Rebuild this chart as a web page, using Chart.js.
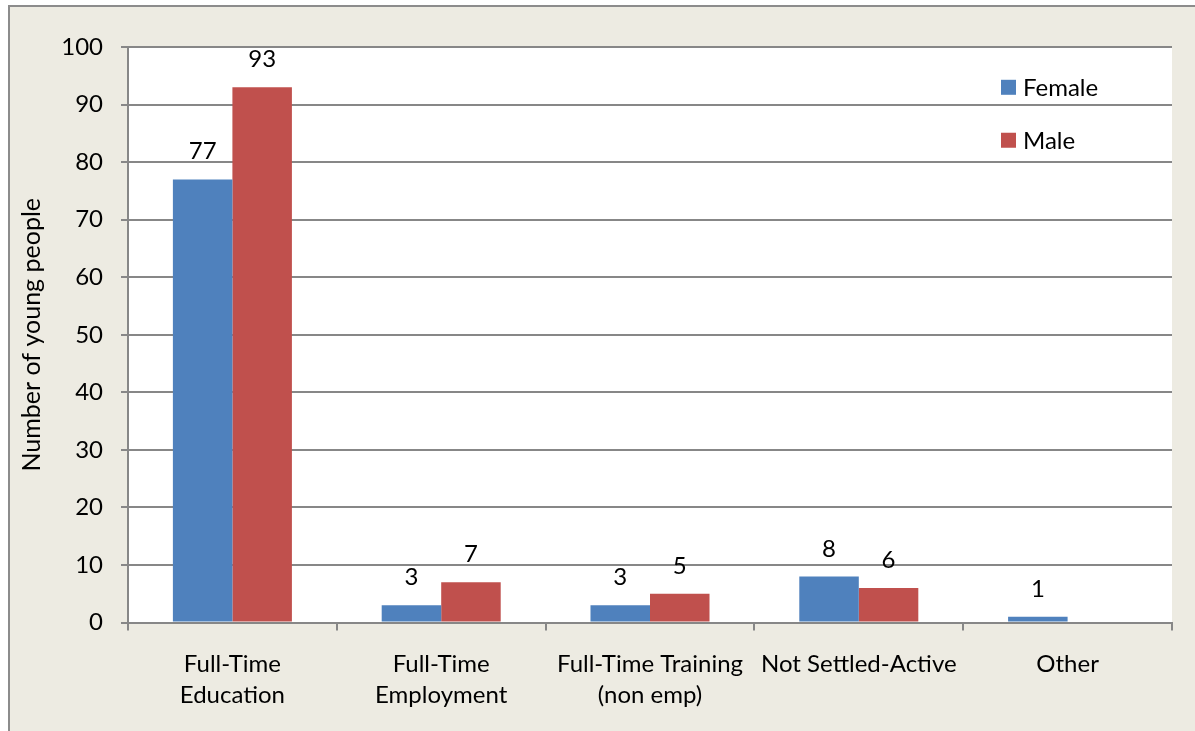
<!DOCTYPE html>
<html>
<head>
<meta charset="utf-8">
<script src="https://cdn.jsdelivr.net/npm/chart.js@4.4.1/dist/chart.umd.min.js"></script>
<style>
  html, body { margin: 0; padding: 0; background: #ffffff; }
  canvas { display: block; }
</style>
</head>
<body>
<canvas id="c" width="1195" height="731"></canvas>
<script>
const categories = [
  ['Full-Time', 'Education'],
  ['Full-Time', 'Employment'],
  ['Full-Time Training', '(non emp)'],
  'Not Settled-Active',
  'Other'
];
const femaleValues = [77, 3, 3, 8, 1];
const maleValues = [93, 7, 5, 6, 0];
const seriesNames = ['Female', 'Male'];
const yTicks = [0, 10, 20, 30, 40, 50, 60, 70, 80, 90, 100];

const FONT = 'Lato, Carlito, Calibri, "Open Sans", sans-serif';
const GRID = '#878787';

const framePlugin = {
  id: 'frame',
  beforeDraw(chart) {
    const ctx = chart.ctx;
    const a = chart.chartArea;
    ctx.save();
    ctx.fillStyle = '#ffffff';
    ctx.fillRect(0, 0, chart.width, chart.height);
    ctx.fillStyle = '#EDEBE2';
    ctx.fillRect(9, 6, chart.width, chart.height);
    ctx.strokeStyle = '#8c8c8c';
    ctx.lineWidth = 2;
    ctx.beginPath();
    ctx.moveTo(9, chart.height + 5);
    ctx.lineTo(9, 6);
    ctx.lineTo(chart.width + 5, 6);
    ctx.stroke();
    ctx.fillStyle = '#ffffff';
    ctx.fillRect(a.left, a.top, a.right - a.left, a.bottom - a.top);
    ctx.restore();
  }
};

const labelPlugin = {
  id: 'barLabels',
  afterDatasetsDraw(chart) {
    const ctx = chart.ctx;
    ctx.save();
    ctx.font = '24px ' + FONT;
    ctx.fillStyle = '#000000';
    ctx.textAlign = 'center';
    ctx.textBaseline = 'alphabetic';
    chart.data.datasets.forEach((ds, i) => {
      const meta = chart.getDatasetMeta(i);
      meta.data.forEach((el, j) => {
        const v = ds.data[j];
        if (!v) return;
        ctx.fillText(String(v), el.x, el.y - 20);
      });
    });
    ctx.restore();
  }
};

const legendPlugin = {
  id: 'insideLegend',
  afterDraw(chart) {
    const ctx = chart.ctx;
    const yScale = chart.scales.y;
    ctx.save();
    ctx.font = '24px ' + FONT;
    ctx.textBaseline = 'middle';
    ctx.textAlign = 'left';
    const rows = [yScale.getPixelForValue(93.0), yScale.getPixelForValue(83.8)];
    chart.data.datasets.forEach((ds, i) => {
      const cy = rows[i];
      ctx.fillStyle = ds.backgroundColor;
      ctx.fillRect(1001, cy - 7.5, 15, 15);
      ctx.fillStyle = '#000000';
      ctx.fillText(ds.label, 1023, cy + 1);
    });
    ctx.restore();
  }
};

new Chart(document.getElementById('c'), {
  type: 'bar',
  data: {
    labels: categories,
    datasets: [
      { label: seriesNames[0], data: femaleValues, backgroundColor: '#4F81BD', borderWidth: 0 },
      { label: seriesNames[1], data: maleValues, backgroundColor: '#C0504D', borderWidth: 0 }
    ]
  },
  options: {
    responsive: false,
    animation: false,
    devicePixelRatio: 1,
    layout: { padding: { left: 0, top: 47, right: 23, bottom: 2 } },
    datasets: { bar: { categoryPercentage: 0.57, barPercentage: 1.0 } },
    plugins: {
      legend: { display: false },
      tooltip: { enabled: false }
    },
    scales: {
      x: {
        grid: { drawOnChartArea: false, offset: true, tickLength: 8, color: GRID, lineWidth: 2 },
        border: { color: GRID, width: 2 },
        ticks: { color: '#000000', font: { family: FONT, size: 24, lineHeight: 1.3 }, padding: 18, maxRotation: 0, autoSkip: false }
      },
      y: {
        min: 0,
        max: 100,
        afterFit(s) { s.width = 128; },
        afterBuildTicks(s) { s.ticks = yTicks.map(v => ({ value: v })); },
        grid: { color: GRID, lineWidth: 2, tickLength: 7 },
        border: { color: GRID, width: 2 },
        ticks: { color: '#000000', font: { family: FONT, size: 24 }, padding: 18 },
        title: { display: true, text: 'Number of young people', color: '#000000', font: { family: FONT, size: 25 }, padding: { top: 17, bottom: 0 } }
      }
    }
  },
  plugins: [framePlugin, labelPlugin, legendPlugin]
});
</script>
</body>
</html>
